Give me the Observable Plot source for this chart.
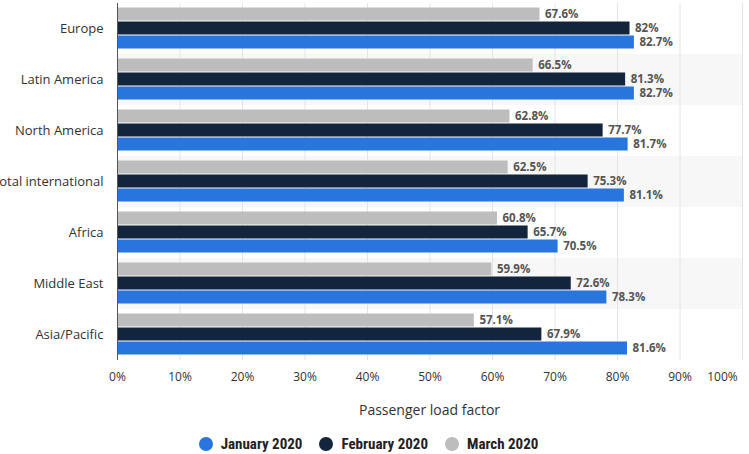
<!DOCTYPE html>
<html><head><meta charset="utf-8">
<script src="https://cdn.jsdelivr.net/npm/d3@7"></script>
<script src="https://cdn.jsdelivr.net/npm/@observablehq/plot@0.6"></script>
<style>
body{margin:0;background:#fff;font-family:"Open Sans",sans-serif;}
#chart svg{overflow:hidden;display:block;}
.xtitle{margin-top:6px;height:18px;line-height:18px;font-size:14px;color:#333;text-align:center;padding-left:110px;width:639px;}
.legend{margin-top:16px;height:18px;line-height:18px;display:flex;justify-content:center;gap:17px;font-family:"Liberation Sans Narrow","Roboto Condensed","Roboto",sans-serif;font-weight:bold;font-size:15px;color:#222;margin-left:-12px;}
.legend span.item{display:flex;align-items:center;gap:8px;}
.legend span.dot{width:14px;height:14px;border-radius:50%;display:inline-block;}
</style>
</head><body>
<div id="chart"></div>
<script>
const regions = ["Europe","Latin America","North America","Total international","Africa","Middle East","Asia/Pacific"];
const months = ["January 2020","February 2020","March 2020"];
const jan = [82.7, 82.7, 81.7, 81.1, 70.5, 78.3, 81.6];
const feb = [82, 81.3, 77.7, 75.3, 65.7, 72.6, 67.9];
const mar = [67.6, 66.5, 62.8, 62.5, 60.8, 59.9, 57.1];
const colors = ["#2876dd", "#12253d", "#bdbdbd"];
const xTicks = [0,10,20,30,40,50,60,70,80,90,100];
const axisTitle = "Passenger load factor";

const data = regions.flatMap((r,i)=>[
  {region:r, month:months[2], value:mar[i]},
  {region:r, month:months[1], value:feb[i]},
  {region:r, month:months[0], value:jan[i]}
]);
const stripes = regions.filter((r,i)=>i%2===1);

const chart = Plot.plot({
  width:749, height:395,
  marginLeft:117, marginRight:7, marginTop:1.5, marginBottom:33,
  style:{fontFamily:"Open Sans, sans-serif", fontSize:"13px", color:"#333", background:"#fff"},
  x:{domain:[0,100], axis:null},
  y:{domain:[months[2],months[1],months[0]], axis:null, paddingInner:0.07, paddingOuter:0.3},
  fy:{domain:regions, padding:0, axis:"left", label:null, tickSize:0, tickPadding:14},
  color:{domain:months, range:colors},
  marks:[
    Plot.barX(stripes, {fy:d=>d, x1:0, x2:100, fill:"#f7f7f7"}),
    Plot.ruleX(xTicks.slice(1), {stroke:"#e4e4e4", strokeWidth:1}),
    Plot.barX(data, {fy:"region", y:"month", x:"value", fill:"month"}),
    Plot.text(data, {fy:"region", y:"month", x:"value", text:d=>d.value+"%", dx:5, textAnchor:"start", fill:"#555", fontWeight:"bold", fontSize:11.5}),
    Plot.ruleX([0], {stroke:"#555", strokeWidth:1}),
    Plot.axisX(xTicks.slice(0,-1), {tickSize:0, tickPadding:12, tickFormat:d=>d+"%", label:null, fill:"#333", fontSize:12}),
    Plot.axisX(xTicks.slice(-1), {tickSize:0, tickPadding:12, tickFormat:d=>d+"%", label:null, dx:-20, fill:"#333", fontSize:12})
  ]
});
const root = document.getElementById("chart");
root.appendChild(chart);
const t = document.createElement("div");
t.className = "xtitle"; t.textContent = axisTitle;
root.appendChild(t);
const lg = document.createElement("div");
lg.className = "legend";
months.forEach((m,i)=>{
  const it = document.createElement("span"); it.className="item";
  const dot = document.createElement("span"); dot.className="dot"; dot.style.background=colors[i];
  const tx = document.createElement("span"); tx.textContent = m;
  it.appendChild(dot); it.appendChild(tx); lg.appendChild(it);
});
root.appendChild(lg);
</script>
</body></html>
